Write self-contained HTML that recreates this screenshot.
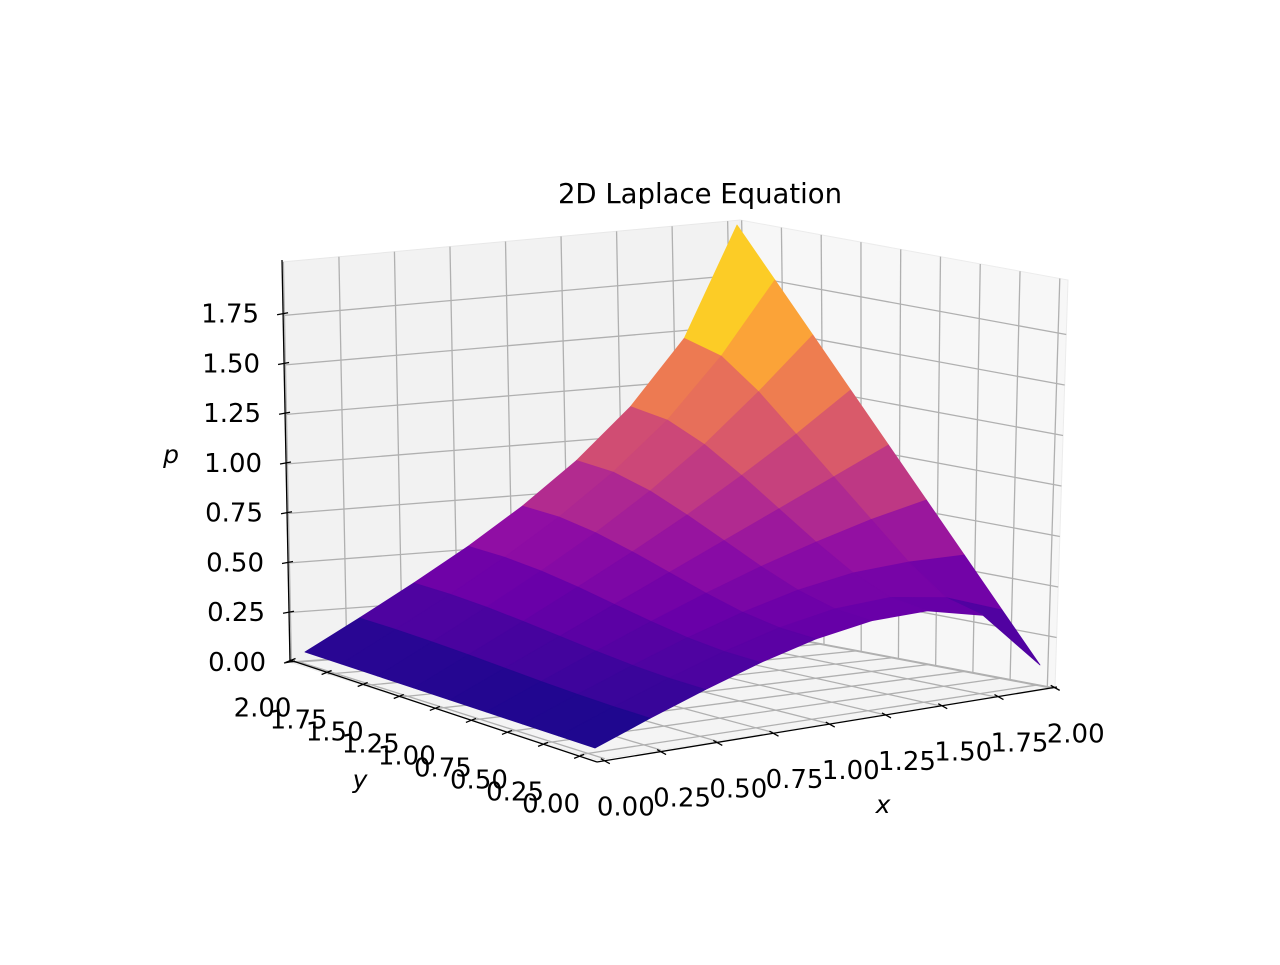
<!DOCTYPE html>
<html><head><meta charset="utf-8"><title>2D Laplace Equation</title>
<style>
html,body{margin:0;padding:0;background:#fff;}
svg text{font-family:"DejaVu Sans","Liberation Sans",sans-serif;fill:#000;}
</style></head>
<body>
<svg id="chart" width="1280" height="960" viewBox="0 0 1280 960" xmlns="http://www.w3.org/2000/svg">
<rect width="1280" height="960" fill="#fff"/>
<g id="panes"></g>
<g id="grid"></g>
<g id="axes"></g>
<g id="surface"></g>
<text x="700" y="203" font-size="27.5" text-anchor="middle">2D Laplace Equation</text>
<text x="883" y="813" font-size="25" font-style="italic" text-anchor="middle">x</text>
<text x="360" y="788" font-size="25" font-style="italic" text-anchor="middle">y</text>
<text x="171" y="463" font-size="25" font-style="italic" text-anchor="middle">p</text>
</svg>
<script>
const xValues = [0, 0.25, 0.5, 0.75, 1, 1.25, 1.5, 1.75, 2];
const yValues = [0, 0.25, 0.5, 0.75, 1, 1.25, 1.5, 1.75, 2];
const pGrid = [
  [0,0,0,0,0,0,0,0,0],
  [0.097,0.099,0.105,0.114,0.125,0.136,0.145,0.151,0.153],
  [0.189,0.194,0.207,0.227,0.25,0.273,0.293,0.306,0.311],
  [0.272,0.280,0.302,0.336,0.375,0.415,0.448,0.470,0.478],
  [0.338,0.351,0.386,0.439,0.5,0.561,0.614,0.650,0.662],
  [0.377,0.398,0.454,0.534,0.625,0.715,0.797,0.853,0.873],
  [0.375,0.408,0.497,0.617,0.75,0.883,1.004,1.092,1.126],
  [0.300,0.359,0.508,0.691,0.875,1.059,1.242,1.391,1.450],
  [0,0.25,0.5,0.75,1,1.25,1.5,1.75,2]
];
const xTicks = [0,0.25,0.5,0.75,1,1.25,1.5,1.75,2];
const yTicks = [0,0.25,0.5,0.75,1,1.25,1.5,1.75,2];
const zTicks = [0,0.25,0.5,0.75,1,1.25,1.5,1.75];

const NS = "http://www.w3.org/2000/svg";
function mk(tag, attrs, parent){const e=document.createElementNS(NS,tag);for(const k in attrs)e.setAttribute(k,attrs[k]);parent.appendChild(e);return e;}
function lerp(a,b,t){return [a[0]+(b[0]-a[0])*t,a[1]+(b[1]-a[1])*t];}
function bil(p00,p10,p01,p11,u,v){return lerp(lerp(p00,p10,u),lerp(p01,p11,u),v);}

const A=[597,760],B=[1055,688],C=[290,662],D=[748,630];
const Dt=[740,220],Bt=[1068,280],Ct=[282,262];
const zTop=2.02;
const panes=document.getElementById('panes');
const grid=document.getElementById('grid');
const axes=document.getElementById('axes');
function poly(pts){return pts.map(p=>p[0].toFixed(1)+','+p[1].toFixed(1)).join(' ');}
let e;
e=mk('polygon',{points:poly([A,B,D,C]),fill:'#f4f4f4',stroke:'#ececec'},panes);


e=mk('polygon',{points:poly([C,D,Dt,Ct]),fill:'#f2f2f2',stroke:'#e8e8e8'},panes);


e=mk('polygon',{points:poly([D,B,Bt,Dt]),fill:'#f7f7f7',stroke:'#ececec'},panes);



function paneX(x){return 0.003+x*0.485;}
function paneY(y){return 0.005+(2-y)*0.485;}
function floorU(x){return 0.017+x*0.489;}
function floorV(y){return 0.055+y*0.47;}
function gl(p,q,name){const l=mk('line',{x1:p[0],y1:p[1],x2:q[0],y2:q[1],stroke:'#b0b0b0','stroke-width':1.3},grid);}
xTicks.forEach(x=>{const t=paneX(x);gl(lerp(C,D,t),lerp(Ct,Dt,t),'grid-x-back');});
zTicks.forEach(z=>{const t=z/zTop;gl(lerp(C,Ct,t),lerp(D,Dt,t),'grid-z-left');gl(lerp(D,Dt,t),lerp(B,Bt,t),'grid-z-right');});
yTicks.forEach(y=>{const s=paneY(y);gl(lerp(D,B,s),lerp(Dt,Bt,s),'grid-y-back');});
xTicks.forEach(x=>{const u=floorU(x);gl(bil(A,B,C,D,u,0),bil(A,B,C,D,u,1),'grid-x-floor');});
yTicks.forEach(y=>{const v=floorV(y);gl(bil(A,B,C,D,0,v),bil(A,B,C,D,1,v),'grid-y-floor');});

function ax(p,q,name){const l=mk('line',{x1:p[0],y1:p[1],x2:q[0],y2:q[1],stroke:'#000','stroke-width':1.3},axes);}
ax([597,762],[1057,687],'x-axis-line');
ax([290,660],[597,762],'y-axis-line');
ax([290,662],[282,260],'z-axis-line');
function fmt(v){return v.toFixed(2);}
xTicks.forEach(x=>{
  const u=floorU(x);const p=lerp([597,762],[1057,687],u);
  ax([p[0]-4,p[1]-2],[p[0]+5,p[1]+3],'x-tick');
  const t=mk('text',{x:p[0]+21,y:p[1]+55,'font-size':26,'text-anchor':'middle'},axes);t.textContent=fmt(x);
  
  
});
yTicks.forEach(y=>{
  const v=floorV(y);const p=lerp([597,762],[290,660],v);
  ax([p[0]+4,p[1]-2],[p[0]-6,p[1]+2],'y-tick');
  const t=mk('text',{x:p[0]-29,y:p[1]+56,'font-size':26,'text-anchor':'middle'},axes);t.textContent=fmt(y);
  
  
});
zTicks.forEach(z=>{
  const p=lerp([290,662],[282,260],z/zTop);
  ax([p[0]-6,p[1]+1],[p[0]+5,p[1]-1],'z-tick');
  const t=mk('text',{x:p[0]-24,y:p[1]+9,'font-size':26,'text-anchor':'end'},axes);t.textContent=fmt(z);
  
  
});

const S00=[595,748],S20=[1040,665],S02=[305,652],S22=[745,625];
function proj(x,y,z){const f=bil(S00,S20,S02,S22,x/2,y/2);return [f[0]-4*z,f[1]-200*z];}
const plasma=[[13,8,135],[65,4,157],[106,0,168],[143,13,164],[177,42,144],[204,71,120],[225,100,98],[242,132,75],[252,166,54],[252,206,37],[240,249,33]];
function cmap(t){t=Math.max(0,Math.min(1,t))*10;const i=Math.min(9,Math.floor(t));const f=t-i;const a=plasma[i],b=plasma[i+1];return 'rgb('+a.map((c,k)=>Math.round(c+(b[k]-c)*f)).join(',')+')';}
const zMax=2;
const quads=[];
for(let i=0;i<xValues.length-1;i++)for(let j=0;j<yValues.length-1;j++)quads.push([i,j]);
quads.sort((a,b)=>(b[0]+b[1])-(a[0]+a[1]) || (b[1]-a[1]));
const surf=document.getElementById('surface');
quads.forEach(([i,j])=>{
  const pts=[[i,j],[i+1,j],[i+1,j+1],[i,j+1]].map(([a,b])=>proj(xValues[a],yValues[b],pGrid[a][b]));
  const vals=[pGrid[i][j],pGrid[i+1][j],pGrid[i+1][j+1],pGrid[i][j+1]];
  const zm=vals.reduce((s,v)=>s+v,0)/4;
  const zx=Math.max(...vals);
  const col=cmap((zm*0.6+zx*0.4)/zMax);
  const q=mk('polygon',{points:poly(pts),fill:col,stroke:col,'stroke-width':0.8,'stroke-linejoin':'round'},surf);
  
  
});
</script>
</body></html>
